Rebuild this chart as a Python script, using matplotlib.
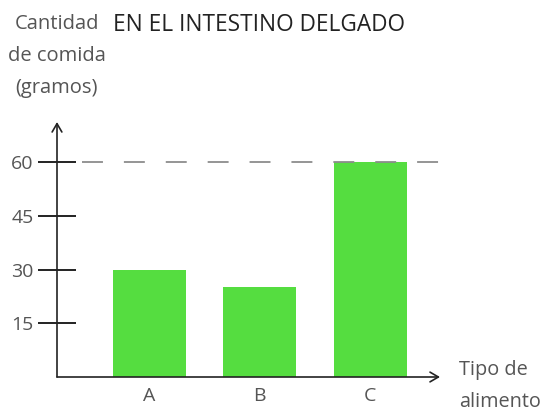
import matplotlib.pyplot as plt

# datos del grafico
categorias = ["A", "B", "C"]
cantidades = [30, 25, 60]
ticks_y = [15, 30, 45, 60]
linea_ref = 60

plt.rcParams['font.family'] = ['Open Sans', 'DejaVu Sans']

fig = plt.figure(figsize=(5.43, 4.11), dpi=100)
W, H = 543, 411
x0, x1, y0, y1 = 57, 440, 377, 122
ax = fig.add_axes([x0 / W, (H - y0) / H, (x1 - x0) / W, (y0 - y1) / H])

pos = list(range(len(categorias)))
ax.bar(pos, cantidades, width=0.66, color="#55dd40", zorder=2)
ax.axhline(linea_ref, xmin=0.065, xmax=1.0, color="#8c8c8c", lw=1.3,
           dashes=(11.6, 11.6), zorder=3)

ax.set_xlim(-0.833, 2.633)
ax.set_ylim(0, 71.2)
ax.set_xticks(pos)
ax.set_xticklabels(categorias)
ax.set_yticks(ticks_y)

for s in ax.spines.values():
    s.set_visible(False)

ax.tick_params(axis="y", direction="inout", length=28, width=1.3,
               color="#111111", labelsize=14, labelcolor="#555555", pad=3)
ax.tick_params(axis="x", length=0, labelsize=14, labelcolor="#555555", pad=7)

# ejes con flechas
ax.annotate("", xy=(0, 1.0), xytext=(0, 0), xycoords="axes fraction",
            arrowprops=dict(arrowstyle="->,head_length=0.6,head_width=0.35",
                            color="#222222", lw=1.2, shrinkA=0, shrinkB=0))
ax.annotate("", xy=(1.0, 0), xytext=(0, 0), xycoords="axes fraction",
            arrowprops=dict(arrowstyle="->,head_length=0.6,head_width=0.35",
                            color="#222222", lw=1.2, shrinkA=0, shrinkB=0))

fig.text(57 / W, 1 - 56 / H, "Cantidad\nde comida\n(gramos)", ha="center",
         va="center", fontsize=14.5, color="#555555", linespacing=1.82)
fig.text(113 / W, 1 - 25 / H, "EN EL INTESTINO DELGADO", ha="left",
         va="center", fontsize=16.3, color="#222222")
fig.text(459 / W, 1 - 386 / H, "Tipo de\nalimento", ha="left", va="center",
         fontsize=14.3, color="#555555", linespacing=1.76)

fig.savefig("out.png", dpi=100)
